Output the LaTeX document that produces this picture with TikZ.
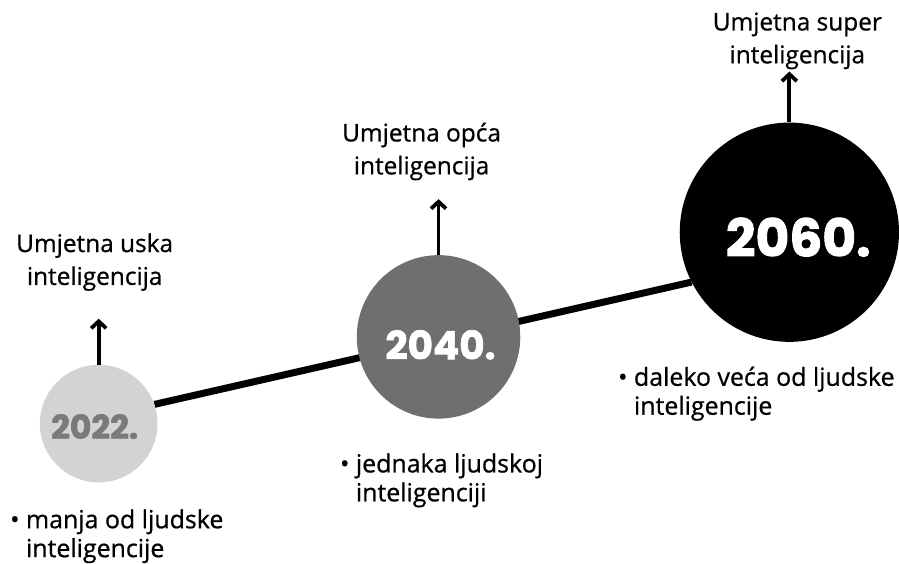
\documentclass[tikz,border=0pt]{standalone}
\usepackage{fontspec}
\setmainfont{Open Sans}[FakeBold=0.7]
\newfontfamily\yearfont{Poppins}[FakeBold=1.8]
\usetikzlibrary{arrows.meta,backgrounds}
\definecolor{lightc}{HTML}{D3D3D3}
\definecolor{midc}{HTML}{6F6F6F}
\definecolor{yrgray}{HTML}{7A7A7A}
\begin{document}
\begin{tikzpicture}[x=1pt,y=-1pt,
 circ/.style={circle, inner sep=0pt},
 yr/.style={font=\yearfont\bfseries\fontsize{#1}{#1}\selectfont, inner sep=0pt},
 lbl/.style={font=\fontsize{24.5}{33}\selectfont, align=center, inner sep=0pt},
 bul/.style={font=\fontsize{25}{29}\selectfont, align=left, anchor=west, inner sep=0pt},
 up/.style={line width=3.8pt, -{Straight Barb[length=7pt,width=15pt,line width=3.8pt]}},
 conn/.style={line width=7pt}
]
\node[circ, fill=lightc, minimum size=118pt] (c1) at (99,425) {};
\node[circ, fill=midc, minimum size=164pt] (c2) at (440,338) {};
\node[circ, fill=black, minimum size=220pt] (c3) at (792,233) {};
\begin{scope}[on background layer]
\fill[white] (0,0) rectangle (899,565);
\draw[conn] (c1.19) -- (c3.207);
\end{scope}
\useasboundingbox (0,0) rectangle (899,565);
\node[yr=33, text=yrgray] (y1) at (95,428) {2022.};
\node[yr=39, text=white] (y2) at (442,346) {2040.};
\node[yr=52, text=white] (y3) at (801,238) {2060.};
\draw[up] (c1.north) -- ++(0,-46) coordinate (a1);
\draw[up] (c2.north) -- ++(0,-56) coordinate (a2);
\draw[up] (c3.north) -- ++(0,-51) coordinate (a3);
\node[lbl] (l1) at (95,263) {Umjetna uska\\inteligencija};
\node[lbl] (l2) at (423,152) {Umjetna opća\\inteligencija};
\node[lbl] (l3) at (800,41) {Umjetna super\\inteligencija};
\node[bul] (b1) at (10,538) {• manja od ljudske\\\hphantom{• }inteligencije};
\node[bul] (b2) at (341,482) {• jednaka ljudskoj\\\hphantom{• }inteligenciji};
\node[bul] (b3) at (620,395) {• daleko veća od ljudske\\\hphantom{• }inteligencije};
\end{tikzpicture}
\end{document}
